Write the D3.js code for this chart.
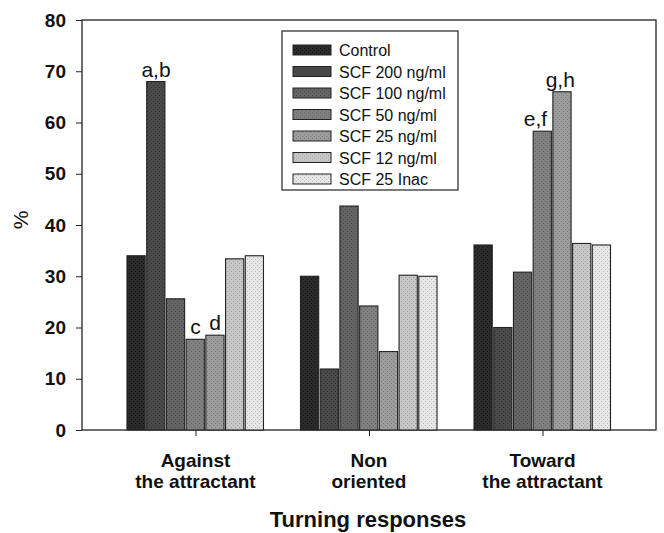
<!DOCTYPE html>
<html>
<head>
<meta charset="utf-8">
<script src="https://cdn.jsdelivr.net/npm/d3@7"></script>
<style>
  body { margin: 0; background: #fff; }
  svg { font-family: "Liberation Sans", Arial, sans-serif; }
</style>
</head>
<body>
<svg id="chart" width="664" height="533"></svg>
<script>
// grouped bars, turning responses
const groups = ["Against|the attractant", "Non|oriented", "Toward|the attractant"];
const series = ["Control", "SCF 200 ng/ml", "SCF 100 ng/ml", "SCF 50 ng/ml", "SCF 25 ng/ml", "SCF 12 ng/ml", "SCF 25 Inac"];
const values = [
  [34, 68, 25.6, 17.7, 18.5, 33.4, 34],
  [30, 11.9, 43.7, 24.2, 15.3, 30.2, 30],
  [36.1, 20, 30.8, 58.3, 66, 36.4, 36.1]
];
const yTicks = [0, 10, 20, 30, 40, 50, 60, 70, 80];
// letters above bars: [group, series, text, dx]
const notes = [[0, 1, "a,b", 0], [0, 3, "c", 0], [0, 4, "d", 0], [2, 3, "e,f", -7], [2, 4, "g,h", -2]];

const fills = ["#2b2b2b", "#4a4a4a", "#646464", "#808080", "#9c9c9c", "#c6c6c6", "#e6e6e6"];
const dots = ["#151515", "#333", "#4d4d4d", "#666", "#7d7d7d", "#a2a2a2", "#bdbdbd"];

const svg = d3.select("#chart");
const margin = {top: 20, right: 8, bottom: 103, left: 82};
const width = 664, height = 533;

const defs = svg.append("defs");
fills.forEach((c, i) => {
  const p = defs.append("pattern").attr("id", "pat" + i)
    .attr("patternUnits", "userSpaceOnUse").attr("width", 4).attr("height", 4);
  p.append("rect").attr("width", 4).attr("height", 4).attr("fill", c);
  p.append("rect").attr("x", 1).attr("y", 1).attr("width", 1).attr("height", 1).attr("fill", dots[i]);
  p.append("rect").attr("x", 3).attr("y", 3).attr("width", 1).attr("height", 1).attr("fill", dots[i]);
});

const x = d3.scalePoint().domain(groups).range([margin.left, width - margin.right]).padding(0.654);
const inner = d3.scaleBand().domain(series).range([-69, 69]);
const y = d3.scaleLinear().domain([0, 80]).range([height - margin.bottom, margin.top]);

// frame
svg.append("rect")
  .attr("x", margin.left).attr("y", margin.top)
  .attr("width", width - margin.right - margin.left)
  .attr("height", height - margin.bottom - margin.top)
  .attr("fill", "none").attr("stroke", "#222").attr("stroke-width", 1.3);

// bars
groups.forEach((g, gi) => {
  svg.append("g").selectAll("rect")
    .data(values[gi])
    .join("rect")
    .attr("x", (d, i) => x(g) + inner(series[i]) + 0.5)
    .attr("width", inner.bandwidth() - 1.5)
    .attr("y", d => y(d))
    .attr("height", d => y(0) - y(d))
    .attr("fill", (d, i) => "url(#pat" + i + ")")
    .attr("stroke", "#222").attr("stroke-width", 1.1);
});

notes.forEach(([gi, si, t, dx]) => {
  svg.append("text")
    .attr("x", x(groups[gi]) + inner(series[si]) + inner.bandwidth() / 2 + dx)
    .attr("y", y(values[gi][si]) - 5)
    .attr("text-anchor", "middle")
    .attr("font-size", 21)
    .attr("fill", "#111")
    .text(t);
});

// y axis
const yAxis = svg.append("g")
  .attr("transform", `translate(${margin.left},0)`)
  .call(d3.axisLeft(y).tickValues(yTicks).tickSize(6).tickPadding(10));
yAxis.select(".domain").remove();
yAxis.selectAll("line").attr("stroke", "#222");
yAxis.selectAll("text").attr("font-size", 19).attr("font-weight", "bold")
  .attr("font-family", "Liberation Sans, Arial, sans-serif").attr("fill", "#111");

// x axis
const xAxis = svg.append("g")
  .attr("transform", `translate(0,${height - margin.bottom})`)
  .call(d3.axisBottom(x).tickSize(6).tickFormat(""));
xAxis.select(".domain").remove();
xAxis.selectAll("line").attr("stroke", "#222");
groups.forEach(g => {
  const parts = g.split("|");
  parts.forEach((s, k) => {
    svg.append("text")
      .attr("x", x(g)).attr("y", 467 + k * 21)
      .attr("text-anchor", "middle")
      .attr("font-size", 19).attr("font-weight", "bold").attr("fill", "#111")
      .text(s);
  });
});

svg.append("text")
  .attr("x", 368).attr("y", 527)
  .attr("text-anchor", "middle")
  .attr("font-size", 22).attr("font-weight", "bold").attr("fill", "#111")
  .text("Turning responses");

svg.append("text")
  .attr("transform", "translate(28,220) rotate(-90)")
  .attr("text-anchor", "middle")
  .attr("font-size", 21).attr("fill", "#111")
  .text("%");

// legend
const lg = svg.append("g").attr("transform", "translate(282,31)");
lg.append("rect").attr("width", 176).attr("height", 159)
  .attr("fill", "#fff").attr("stroke", "#222").attr("stroke-width", 1.2);
series.forEach((s, i) => {
  const row = lg.append("g").attr("transform", `translate(11,${14 + i * 21.5})`);
  row.append("rect").attr("width", 38).attr("height", 10)
    .attr("fill", "url(#pat" + i + ")").attr("stroke", "#222").attr("stroke-width", 1);
  row.append("text").attr("x", 46).attr("y", 11)
    .attr("font-size", 16).attr("fill", "#111").text(s);
});
</script>
</body>
</html>
